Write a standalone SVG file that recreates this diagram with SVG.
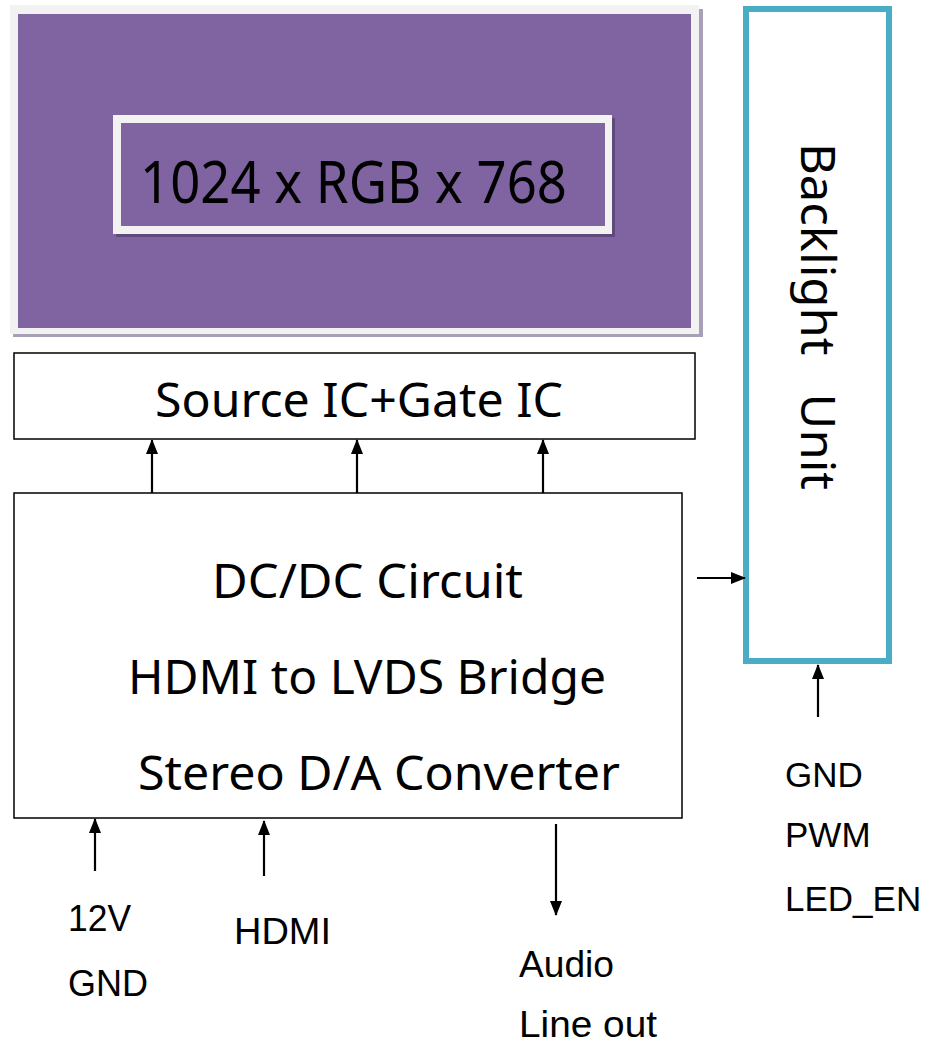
<svg xmlns="http://www.w3.org/2000/svg" width="932" height="1045" viewBox="0 0 932 1045">
<style>
.box{fill:#fff;stroke:#000;stroke-width:1.5}
.big{font-family:"Noto Sans","Open Sans",sans-serif;font-size:47px;fill:#000}
.res{font-size:58px}
.lbl{font-family:"Liberation Sans",Arial,sans-serif;font-size:37px;fill:#000}
.lbl2{font-family:"Liberation Sans",Arial,sans-serif;font-size:35px;fill:#000}
.conn{stroke:#000;stroke-width:2.2;fill:none;marker-end:url(#ah)}
</style>
<defs>
<marker id="ah" markerWidth="15" markerHeight="13" refX="14" refY="6.5" orient="auto" markerUnits="userSpaceOnUse" viewBox="0 0 15 13">
<path d="M0,0.5 L15,6.5 L0,12.5 Z" fill="#000"/>
</marker>
</defs>
<rect width="932" height="1045" fill="#fff"/>
<g id="panel">
<rect x="13" y="9" width="690" height="328" fill="#a8a0b8"/>
<rect x="10" y="5" width="689" height="329" fill="#f2f2f2"/>
<rect x="18" y="14" width="673" height="314" fill="#8064a2"/>
<rect x="116" y="118" width="499" height="119" fill="#5f4a7c"/>
<rect x="113" y="115" width="499" height="119" fill="#f2f2f2"/>
<rect x="121" y="123" width="484" height="103" fill="#8064a2"/>
<text x="140" y="203" class="big res" textLength="427" lengthAdjust="spacingAndGlyphs">1024 x RGB x 768</text>
</g>
<g id="source-gate">
<rect x="14" y="353" width="681" height="86" class="box"/>
<text x="155" y="417" class="big" textLength="408" lengthAdjust="spacingAndGlyphs">Source IC+Gate IC</text>
</g>
<g id="main-board">
<rect x="14" y="493" width="668" height="325" class="box"/>
<text x="212" y="598" class="big" textLength="311" lengthAdjust="spacingAndGlyphs">DC/DC Circuit</text>
<text x="128" y="694" class="big" textLength="478" lengthAdjust="spacingAndGlyphs">HDMI to LVDS Bridge</text>
<text x="138" y="790" class="big" textLength="482" lengthAdjust="spacingAndGlyphs">Stereo D/A Converter</text>
</g>
<g id="backlight">
<rect x="746" y="9" width="143" height="652" fill="#fff" stroke="#4bacc6" stroke-width="6"/>
<text transform="translate(801,143) rotate(90)" x="0" y="0" class="big" textLength="347" lengthAdjust="spacingAndGlyphs" xml:space="preserve">Backlight   Unit</text>
</g>
<g id="labels">
<text x="68" y="931" class="lbl" textLength="63" lengthAdjust="spacingAndGlyphs">12V</text>
<text x="68" y="996" class="lbl" textLength="80" lengthAdjust="spacingAndGlyphs">GND</text>
<text x="234" y="944" class="lbl" textLength="97" lengthAdjust="spacingAndGlyphs">HDMI</text>
<text x="519" y="977" class="lbl" textLength="95" lengthAdjust="spacingAndGlyphs">Audio</text>
<text x="519" y="1037" class="lbl" textLength="138" lengthAdjust="spacingAndGlyphs">Line out</text>
<text x="785" y="787" class="lbl2">GND</text>
<text x="785" y="847" class="lbl2">PWM</text>
<text x="785" y="911" class="lbl2">LED_EN</text>
</g>
<g id="connectors">
<line x1="152" y1="493" x2="152" y2="440" class="conn"/>
<line x1="357" y1="493" x2="357" y2="440" class="conn"/>
<line x1="543" y1="493" x2="543" y2="440" class="conn"/>
<line x1="697" y1="578" x2="745" y2="578" class="conn"/>
<line x1="818" y1="717" x2="818" y2="665" class="conn"/>
<line x1="95" y1="871" x2="95" y2="819" class="conn"/>
<line x1="264" y1="876" x2="264" y2="821" class="conn"/>
<line x1="556" y1="824" x2="556" y2="915" class="conn"/>
</g>
</svg>
